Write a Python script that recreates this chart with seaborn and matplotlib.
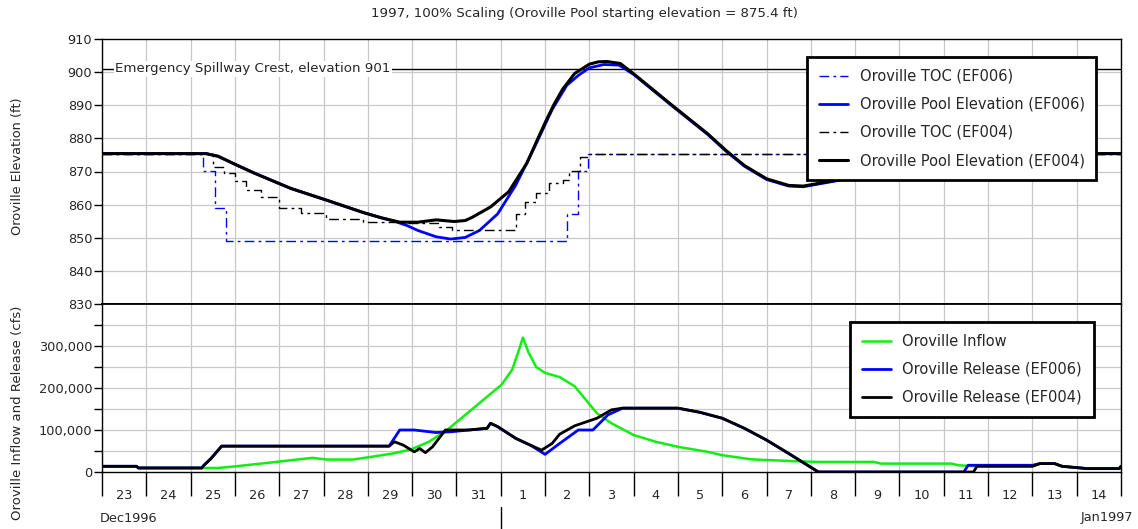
#!/usr/bin/env python3
# -*- coding: utf-8 -*-
"""Oroville 1997 flood routing: pool elevation / TOC (top) and inflow / release (bottom)."""

import matplotlib.pyplot as plt
import numpy as np
import pandas as pd
import seaborn as sns

# x values are days after 23 Dec 1996 00:00
day_labels = ["23", "24", "25", "26", "27", "28", "29", "30", "31",
              "1", "2", "3", "4", "5", "6", "7", "8", "9", "10", "11", "12", "13", "14"]

# ---- top panel: elevation (ft) ----
toc_ef006_day = [0, 2.28, 2.54, 2.8, 10.5, 10.75, 10.98, 23]
toc_ef006 = [875.4, 870.2, 858.9, 849.1, 857.1, 870.2, 875.4, 875.4]

pool_ef006_day = [0, 2.35, 2.62, 3.03, 3.44, 3.85, 4.26, 5.08, 5.9, 6.31, 6.6, 6.9,
                  7.13, 7.54, 7.87, 8.2, 8.52, 8.93, 9.34, 9.75, 10.16, 10.49, 10.75,
                  11.0, 11.33, 11.67, 12.0, 12.83, 13.67, 14.08, 14.5, 15.0, 15.5,
                  15.83, 16.33, 16.83, 17.5, 18.5, 19.5, 20.3, 23]
pool_ef006 = [875.4, 875.4, 874.6, 872.0, 869.5, 867.2, 864.9, 861.3, 857.6, 856.0, 855.0, 853.6,
              852.2, 850.3, 849.6, 850.1, 852.2, 857.2, 865.9, 877.0, 888.7, 896.0, 899.0,
              901.3, 902.3, 902.1, 899.3, 890.2, 881.2, 876.2, 871.6, 867.6, 865.6,
              865.4, 866.6, 867.8, 869.5, 871.5, 873.5, 875.4, 875.4]

toc_ef004_day = [0, 2.5, 2.75, 3.0, 3.25, 3.6, 4.0, 4.5, 5.05, 5.9, 6.7, 7.6, 7.9,
                 9.35, 9.55, 9.8, 10.1, 10.4, 10.55, 10.8, 11.0, 23]
toc_ef004 = [875.4, 871.5, 869.5, 867.0, 864.4, 862.4, 859.1, 857.5, 855.7, 854.7, 854.4, 853.3, 852.2,
             857.3, 860.8, 863.4, 866.4, 867.4, 870.3, 874.3, 875.4, 875.4]

pool_ef004_day = [0, 2.35, 2.62, 3.03, 3.44, 3.85, 4.26, 5.08, 5.9, 6.31, 6.72, 7.13,
                  7.54, 7.95, 8.2, 8.36, 8.77, 9.18, 9.59, 9.8, 10.0, 10.2, 10.4, 10.67,
                  11.0, 11.2, 11.4, 11.7, 12.0, 12.83, 13.67, 14.08, 14.5, 15.0, 15.5,
                  15.83, 16.33, 16.83, 17.5, 18.5, 19.5, 20.3, 23]
pool_ef004 = [875.4, 875.4, 874.6, 872.0, 869.5, 867.2, 864.9, 861.3, 857.6, 856.0, 854.7, 854.7,
              855.4, 854.9, 855.2, 856.2, 859.3, 863.9, 872.5, 878.8, 884.7, 890.2, 894.9, 899.6,
              902.4, 903.1, 903.2, 902.6, 899.5, 890.4, 881.4, 876.4, 871.8, 867.8, 865.8,
              865.6, 866.8, 868.0, 869.5, 871.5, 873.5, 875.4, 875.4]

spillway_crest = 901

# ---- bottom panel: flow (cfs) ----
inflow_day = [0, 0.78, 0.82, 2.3, 2.62, 3.03, 3.44, 3.85, 4.26, 4.75, 5.08, 5.66, 6.07, 6.56, 6.97,
              7.38, 7.79, 8.2, 8.61, 9.02, 9.26, 9.39, 9.5, 9.63, 9.8, 10.0, 10.33,
              10.67, 10.92, 11.17, 11.5, 12.0, 12.5, 13.0, 13.67, 14.0, 14.67, 15.67,
              16.17, 17.42, 17.58, 19.17, 19.33, 19.75, 21.0, 21.17, 21.5, 21.67, 22.25,
              22.96, 23]
inflow = [13600, 13600, 9600, 9600, 9600, 13600, 18400, 23000, 28000, 33600, 29600, 29600, 36000, 44000, 53600,
          72000, 100000, 136000, 172000, 208000, 244000, 284000, 320000, 284000, 250000, 236000, 226000,
          204000, 172000, 140000, 116000, 88000, 72000, 60000, 48000, 40000, 30000, 25600,
          24000, 24000, 20000, 20000, 16000, 13600, 13600, 20000, 20000, 13600, 8000,
          8000, 13600]

release_ef006_day = [0, 0.78, 0.82, 2.25, 2.3, 2.46, 2.7, 6.48, 6.72, 7.05, 7.54, 7.9, 8.28,
                     8.69, 8.77, 8.93, 9.34, 9.7, 10.0, 10.33, 10.75, 11.08, 11.42, 11.75,
                     13.0, 13.5, 14.0, 14.5, 15.0, 15.5, 16.17, 19.45, 19.55, 21.0, 21.17,
                     21.5, 21.67, 22.25, 22.96, 23.0]
release_ef006 = [13600, 13600, 9600, 9600, 16000, 32000, 61600, 61600, 100000, 100000, 94000, 96000, 100000,
                 104000, 116000, 108000, 80000, 62000, 42000, 68000, 100000, 100000, 136000, 152000,
                 152000, 142000, 128000, 104000, 76000, 44000, 0, 0, 16000, 16000, 20000,
                 20000, 13600, 8000, 8000, 13600]

release_ef004_day = [0, 0.78, 0.82, 2.25, 2.3, 2.46, 2.7, 6.48, 6.6, 6.8, 7.05, 7.17, 7.3,
                     7.46, 7.75, 8.28, 8.69, 8.77, 8.93, 9.34, 9.92, 10.16, 10.33, 10.67,
                     11.17, 11.5, 11.75, 13.0, 13.5, 14.0, 14.5, 15.0, 15.5, 16.17, 19.67,
                     19.75, 21.0, 21.17, 21.5, 21.67, 22.25, 22.96, 23.0]
release_ef004 = [13600, 13600, 9600, 9600, 16000, 32000, 61600, 61600, 72000, 64000, 48000, 56000, 46000,
                 60000, 100000, 100000, 104000, 116000, 108000, 80000, 52000, 68000, 90000, 110000,
                 128000, 148000, 152000, 152000, 142000, 128000, 104000, 76000, 44000, 0, 0,
                 13600, 13600, 20000, 20000, 13600, 8000, 8000, 13600]

BLUE = "#0000ff"
GREEN = "#11ee11"
GRID = "#c8c8c8"
DASHDOT = (0, (7, 3, 2, 3))


def draw(ax, days, vals, **kw):
    df = pd.DataFrame({"day": days, "val": vals})
    sns.lineplot(data=df, x="day", y="val", ax=ax, estimator=None, sort=False, **kw)
    return ax.get_lines()[-1]


def main():
    sns.set_style("white")
    plt.rcParams["font.family"] = ["DejaVu Sans"]

    fig = plt.figure(figsize=(11.38, 5.29), dpi=100)
    ax1 = fig.add_axes([102 / 1138, 1 - 304 / 529, (1121 - 102) / 1138, (304 - 39) / 529])
    ax2 = fig.add_axes([102 / 1138, 1 - 472 / 529, (1121 - 102) / 1138, (472 - 304) / 529], sharex=ax1)

    # top panel
    l1 = draw(ax1, toc_ef006_day, toc_ef006, color=BLUE, lw=1.0, drawstyle="steps-post")
    l1.set_linestyle(DASHDOT)
    l2 = draw(ax1, pool_ef006_day, pool_ef006, color=BLUE, lw=2.0)
    l3 = draw(ax1, toc_ef004_day, toc_ef004, color="black", lw=1.0, drawstyle="steps-post")
    l3.set_linestyle(DASHDOT)
    l4 = draw(ax1, pool_ef004_day, pool_ef004, color="black", lw=2.2)
    ax1.axhline(spillway_crest, color="black", lw=1.0, zorder=1.5)
    ax1.text(0.3, spillway_crest, "Emergency Spillway Crest, elevation 901", fontsize=9.6,
             va="center", ha="left", zorder=3,
             bbox=dict(facecolor="white", edgecolor="none", pad=1.0))

    # bottom panel
    m1 = draw(ax2, inflow_day, inflow, color=GREEN, lw=1.8)
    m2 = draw(ax2, release_ef006_day, release_ef006, color=BLUE, lw=2.0)
    m3 = draw(ax2, release_ef004_day, release_ef004, color="black", lw=2.0)

    days = np.arange(0, 24)
    for ax in (ax1, ax2):
        ax.set_xlim(0, 23)
        ax.set_xticks(days)
        ax.set_xlabel("")
        ax.set_ylabel("")
        for x in days:
            ax.axvline(x, color=GRID, lw=0.9, zorder=0)
        for s in ax.spines.values():
            s.set_color("black")
            s.set_linewidth(1.0)
        ax.tick_params(axis="y", direction="out", length=6, width=1, color="black",
                       labelsize=9.3, pad=1, left=True)

    ax1.set_ylim(830, 910)
    ax1.set_yticks(np.arange(830, 911, 10))
    for y in np.arange(840, 910, 10):
        ax1.axhline(y, color=GRID, lw=0.9, zorder=0)
    ax1.tick_params(axis="x", bottom=False, labelbottom=False)
    ax1.spines["bottom"].set_linewidth(1.3)

    ax2.set_ylim(0, 400000)
    ax2.set_yticks([0, 100000, 200000, 300000])
    ax2.set_yticklabels(["0", "100,000", "200,000", "300,000"])
    ax2.set_yticks([50000, 150000, 250000, 350000], minor=True)
    ax2.tick_params(axis="y", which="minor", direction="out", length=6, width=1, color="black", left=True)
    for y in np.arange(50000, 400000, 50000):
        ax2.axhline(y, color=GRID, lw=0.9, zorder=0)
    ax2.spines["top"].set_linewidth(1.3)

    ax2.set_xticks(days)
    ax2.set_xticklabels([])
    ax2.set_xticks(days[:-1] + 0.5, minor=True)
    ax2.set_xticklabels(day_labels, minor=True)
    ax2.tick_params(axis="x", which="major", direction="out", length=17, width=1, color="black", bottom=True)
    ax2.tick_params(axis="x", which="minor", length=0, pad=12, labelsize=9.3, bottom=True)

    # month separator and month labels
    ax2.axvline(9, ymin=-0.34, ymax=-0.21, color="black", lw=1.0, clip_on=False)
    fig.text(100 / 1138, 1 - 518 / 529, "Dec1996", fontsize=9.3, ha="left", va="center")
    fig.text(1133 / 1138, 1 - 518 / 529, "Jan1997", fontsize=9.3, ha="right", va="center")

    fig.text(584 / 1138, 1 - 14 / 529,
             "1997, 100% Scaling (Oroville Pool starting elevation = 875.4 ft)",
             fontsize=9.65, ha="center", va="center")
    fig.text(18 / 1138, 1 - 166 / 529, "Oroville Elevation (ft)", rotation=90,
             fontsize=9.3, ha="center", va="center")
    fig.text(18 / 1138, 1 - 413 / 529, "Oroville Inflow and Release (cfs)", rotation=90,
             fontsize=9.5, ha="center", va="center")

    leg_kw = dict(loc="upper left", bbox_transform=fig.transFigure, borderaxespad=0, fontsize=10.5,
                  frameon=True, fancybox=False, framealpha=1, edgecolor="black",
                  handlelength=2.0, labelspacing=0.9, borderpad=0.8)
    leg1 = ax1.legend([l1, l2, l3, l4],
                      ["Oroville TOC (EF006)", "Oroville Pool Elevation (EF006)",
                       "Oroville TOC (EF004)", "Oroville Pool Elevation (EF004)"],
                      bbox_to_anchor=(807 / 1138, 1 - 57 / 529), **leg_kw)
    leg1.get_frame().set_linewidth(2.0)
    leg1.set_zorder(5)

    leg2 = ax2.legend([m1, m2, m3],
                      ["Oroville Inflow", "Oroville Release (EF006)", "Oroville Release (EF004)"],
                      bbox_to_anchor=(850 / 1138, 1 - 322 / 529), **leg_kw)
    leg2.get_frame().set_linewidth(2.0)
    leg2.set_zorder(5)

    fig.savefig("out.png", dpi=100)
    plt.close(fig)


if __name__ == "__main__":
    main()
